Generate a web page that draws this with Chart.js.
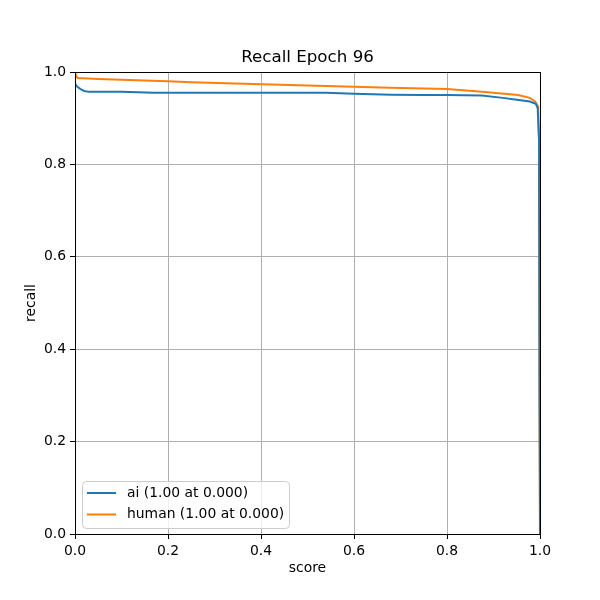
<!DOCTYPE html>
<html>
<head>
<meta charset="utf-8">
<script src="https://cdn.jsdelivr.net/npm/chart.js@4/dist/chart.umd.min.js"></script>
<style>
  html, body { margin: 0; padding: 0; background: #fff; }
</style>
</head>
<body>
<canvas id="recall" width="600" height="600"></canvas>
<script>
// values
const aiScore = [0, 0.005, 0.012, 0.02, 0.03, 0.05, 0.1, 0.17, 0.3, 0.45, 0.54, 0.6, 0.68, 0.75, 0.8, 0.875, 0.92, 0.95, 0.978, 0.991, 0.995, 0.998, 0.999, 1.0];
const aiRecall = [0.975, 0.968, 0.963, 0.959, 0.957, 0.957, 0.957, 0.955, 0.955, 0.955, 0.955, 0.953, 0.951, 0.950, 0.950, 0.949, 0.944, 0.940, 0.936, 0.931, 0.922, 0.85, 0.3, 0.0];

const humanScore = [0, 0.003, 0.006, 0.05, 0.1, 0.2, 0.25, 0.344, 0.5, 0.6, 0.677, 0.8, 0.875, 0.953, 0.978, 0.989, 0.996, 0.998, 0.999, 1.0];
const humanRecall = [1.0, 0.99, 0.987, 0.985, 0.983, 0.980, 0.978, 0.975, 0.971, 0.968, 0.966, 0.963, 0.957, 0.950, 0.944, 0.937, 0.925, 0.85, 0.3, 0.0];

const seriesLabels = ["ai (1.00 at 0.000)", "human (1.00 at 0.000)"];
const seriesColors = ["#1f77b4", "#ff7f0e"];
const chartTitle = "Recall Epoch 96";

const tickFont = { family: "'DejaVu Sans', sans-serif", size: 13.9 };

function toPoints(xs, ys) {
  return xs.map((x, i) => ({ x, y: ys[i] }));
}

// black box round the plot, like matplotlib spines
const frame = {
  id: "frame",
  afterDatasetsDraw(chart) {
    const { ctx, chartArea: a } = chart;
    ctx.save();
    ctx.strokeStyle = "#000";
    ctx.lineWidth = 1;
    ctx.strokeRect(Math.round(a.left) + 0.5, Math.round(a.top) + 0.5,
      Math.round(a.right - a.left), Math.round(a.bottom - a.top));
    ctx.restore();
  },
};

// title centred over the plot area, not the whole canvas
const plotTitle = {
  id: "plotTitle",
  afterDraw(chart) {
    const { ctx, chartArea: a } = chart;
    ctx.save();
    ctx.font = "16.7px 'DejaVu Sans', sans-serif";
    ctx.fillStyle = "#000";
    ctx.textAlign = "center";
    ctx.textBaseline = "middle";
    ctx.fillText(chartTitle, (a.left + a.right) / 2, a.top - 14);
    ctx.restore();
  },
};

// legend in the lower left corner of the plot
const cornerLegend = {
  id: "cornerLegend",
  afterDraw(chart) {
    const { ctx, chartArea: a } = chart;
    const x = a.left + 7, y = a.bottom - 53, w = 207, h = 47;
    ctx.save();
    ctx.fillStyle = "rgba(255,255,255,0.8)";
    ctx.strokeStyle = "#cccccc";
    ctx.lineWidth = 1;
    ctx.beginPath();
    ctx.roundRect(x + 0.5, y + 0.5, w, h, 4);
    ctx.fill();
    ctx.stroke();
    ctx.font = "13.9px 'DejaVu Sans', sans-serif";
    ctx.textBaseline = "middle";
    seriesLabels.forEach((label, i) => {
      const ly = y + 12 + i * 21.5;
      ctx.strokeStyle = seriesColors[i];
      ctx.lineWidth = 2;
      ctx.beginPath();
      ctx.moveTo(x + 5, ly);
      ctx.lineTo(x + 34, ly);
      ctx.stroke();
      ctx.fillStyle = "#000";
      ctx.fillText(label, x + 45, ly);
    });
    ctx.restore();
  },
};

const ctx = document.getElementById("recall");

new Chart(ctx, {
  type: "line",
  data: {
    datasets: [
      {
        label: seriesLabels[0],
        data: toPoints(aiScore, aiRecall),
        borderColor: seriesColors[0],
        borderWidth: 2,
        pointRadius: 0,
        tension: 0,
      },
      {
        label: seriesLabels[1],
        data: toPoints(humanScore, humanRecall),
        borderColor: seriesColors[1],
        borderWidth: 2,
        pointRadius: 0,
        tension: 0,
      },
    ],
  },
  options: {
    responsive: false,
    animation: false,
    layout: { padding: { left: 0, right: 60, top: 72, bottom: 0 } },
    plugins: {
      legend: { display: false },
      tooltip: { enabled: false },
      title: { display: false },
    },
    scales: {
      x: {
        type: "linear",
        min: 0,
        max: 1,
        afterFit(scale) { scale.height = 66; },
        ticks: {
          stepSize: 0.2,
          color: "#000",
          font: tickFont,
          padding: 4,
          maxRotation: 0,
          callback: (v) => v.toFixed(1),
        },
        grid: { color: "#b0b0b0", lineWidth: 1, tickLength: 5, tickColor: "#000" },
        border: { display: false },
        title: {
          display: true,
          text: "score",
          color: "#000",
          font: tickFont,
          padding: { top: 0, bottom: 23 },
        },
      },
      y: {
        type: "linear",
        min: 0,
        max: 1,
        afterFit(scale) { scale.width = 75; },
        ticks: {
          stepSize: 0.2,
          color: "#000",
          font: tickFont,
          padding: 4,
          callback: (v) => v.toFixed(1),
        },
        grid: { color: "#b0b0b0", lineWidth: 1, tickLength: 5, tickColor: "#000" },
        border: { display: false },
        title: {
          display: true,
          text: "recall",
          color: "#000",
          font: tickFont,
          padding: { top: 23, bottom: 0 },
        },
      },
    },
  },
  plugins: [frame, plotTitle, cornerLegend],
});
</script>
</body>
</html>
